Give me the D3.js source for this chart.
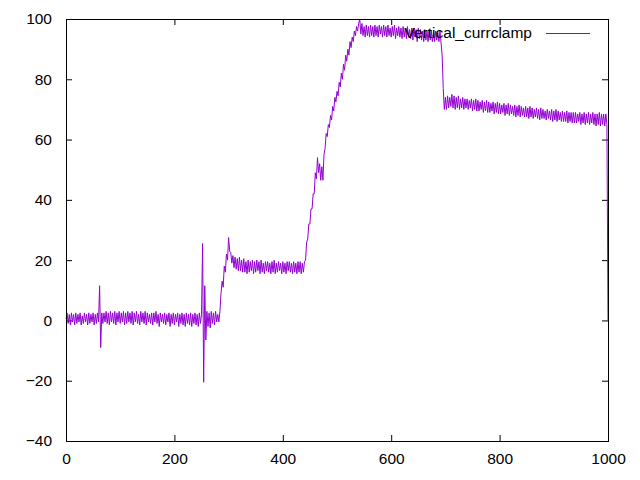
<!DOCTYPE html>
<html>
<head>
<meta charset="utf-8">
<script src="https://cdn.jsdelivr.net/npm/d3@7"></script>
<style>
  html, body { margin: 0; padding: 0; background: #fff; }
  svg { display: block; }
  text { font-family: "Liberation Sans", Arial, sans-serif; font-size: 15.5px; fill: #000; }
</style>
</head>
<body>
<svg id="chart" width="640" height="480"></svg>
<script>
// ---- data ----
const seriesName = "Vertical_currclamp";
const xStep = 2; // samples every 2 units, x = index * xStep
const values = [
  0.5, 2.5, -1, 2, -1.5, 2.5, -0.5, 2, -1.5, 2.5,
  -1, 2, -0.5, 2.5, -1.5, 1.5, -1, 2.5, -0.5, 2,
  -1.5, 2.5, -1, 2, -0.5, 2.5, -1.5, 2, -1, 2.5,
  -0.5, 11.5, -9, 2.5, -1, 2.5, -0.5, 3, -1, 2.5,
  -1.5, 3, -0.5, 2.5, -1, 3, -1.5, 2.5, -0.5, 3,
  -1, 2.5, -0.5, 3, -1.5, 2.5, -1, 3, -0.5, 2.5,
  -1, 3, -1.5, 2.5, -0.5, 3, -1, 2, -1.5, 3,
  -0.5, 2.5, -1, 3, -1.5, 2.5, -0.5, 2, -1, 2.5,
  -1.5, 2.5, -0.5, 3, -1, 2, -2, 2.5, -0.5, 2,
  -1, 2.5, -1.5, 2, -0.5, 2.5, -2, 2, -1, 2.5,
  -1.5, 2, -0.5, 2.5, -2, 2, -1, 2.5, -1.5, 2,
  -2, 2.5, -1, 2, -1.5, 2.5, -2, 2, -1, 2.5,
  -1.5, 2, -2, 2.5, -1, 2, 25.5, -20.5, 11.5, -6.5,
  3, -2, 2.5, -2.5, 3, -1, 2.5, -1.5, 3, -0.5,
  2, -0.5, 3, 9, 13, 11, 18, 16, 22, 20,
  27.5, 23, 22.5, 19, 21.5, 17.5, 21, 17, 20.5, 16.5,
  21, 16.5, 20, 16, 20.5, 16, 19.5, 15.5, 20, 16,
  19.5, 16.5, 20, 15.5, 19.5, 16, 20, 16.5, 19.5, 15.5,
  20, 16, 19, 15.5, 19.5, 16.5, 19.5, 16, 19, 15.5,
  19.5, 16, 20, 15.5, 19, 16, 19.5, 16.5, 19, 15.5,
  19.5, 16, 19, 15.5, 19.5, 16.5, 19.5, 16, 19, 15.5,
  19.5, 16, 19, 15.5, 19.5, 16, 19.5, 15.5, 19, 16,
  19.5, 20, 26, 27, 32, 32, 37, 37, 42, 42,
  49, 47, 54, 49, 52, 46.5, 51, 46.5, 55, 57,
  62, 61, 65, 64, 68, 66.5, 71, 69.5, 74, 72.5,
  76, 74.5, 79, 77.5, 82, 80, 85, 83, 88, 86,
  90, 88, 92.5, 90.5, 94, 92.5, 96, 94.5, 97.5, 96,
  98.5, 100, 95, 98.5, 94.5, 97.5, 94, 98, 94.5, 97.5,
  94, 98, 94.5, 97.5, 94, 98, 94.5, 97.5, 94, 98,
  95, 97.5, 94, 98, 94.5, 97.5, 94, 98, 94.5, 97,
  94, 97.5, 94.5, 98, 93.5, 97, 94.5, 97.5, 94, 97,
  93.5, 97.5, 94, 97, 93.5, 97.5, 94, 96.5, 93.5, 97,
  93, 97, 94, 96.5, 92.5, 97, 93.5, 96.5, 93, 96,
  92.5, 96.5, 93, 96, 92.5, 96.5, 93, 96, 92.5, 95.5,
  92.5, 96, 93, 95.5, 92.5, 96, 92, 88, 77, 70,
  74, 70, 74.5, 70.5, 74, 71, 75, 70.5, 74.5, 70,
  74, 70.5, 74.5, 70, 73.5, 70.5, 74, 70, 73.5, 70.5,
  73.5, 70, 73, 70.5, 73.5, 69.5, 73, 70, 73.5, 69.5,
  73, 69.5, 72.5, 70, 73, 69, 72.5, 69.5, 73, 69,
  72.5, 69, 72, 69.5, 72.5, 68.5, 72, 69, 72.5, 68.5,
  72, 68.5, 71.5, 69, 72, 68, 71.5, 68.5, 72, 68,
  71.5, 68.5, 71, 68, 71.5, 67.5, 71, 68, 71.5, 67.5,
  71, 68, 70.5, 67.5, 71, 67.5, 70.5, 67, 71, 67.5,
  70.5, 67, 70, 67.5, 70.5, 67, 70, 66.5, 70.5, 67,
  70, 67, 69.5, 66.5, 70, 67, 69.5, 66.5, 70, 66,
  69.5, 66.5, 70, 66, 69.5, 66.5, 69, 66, 69.5, 66,
  69, 66, 69.5, 65.5, 69, 66, 69, 65.5, 69, 65.5,
  69, 65.5, 68.5, 66, 69, 65, 68.5, 65.5, 69, 65,
  68.5, 65.5, 69, 65, 68.5, 65.5, 69, 65, 68.5, 64.5,
  68.5, 65, 69, 64.5, 68.5, 65, 68.5, 64.5, 68.5, 65,
  0
];
const xTicks = [0, 200, 400, 600, 800, 1000];
const yTicks = [-40, -20, 0, 20, 40, 60, 80, 100];
const xDomain = [0, 1000];
const yDomain = [-40, 100];

// ---- layout ----
const plotLeft = 66, plotRight = 608, plotTop = 19, plotBottom = 441;
const lineColor = "#9400d3";
const tickLen = 6;

const svg = d3.select("#chart");
const x = d3.scaleLinear().domain(xDomain).range([plotLeft, plotRight]);
const y = d3.scaleLinear().domain(yDomain).range([plotBottom, plotTop]);

const data = values.map((v, i) => ({ x: i * xStep, y: v }));

// axes (gnuplot style: inward ticks, mirrored)
const gB = svg.append("g").attr("transform", `translate(0,${plotBottom})`)
  .call(d3.axisBottom(x).tickValues(xTicks).tickSize(-tickLen).tickPadding(12).tickFormat(d3.format("d")));
const gT = svg.append("g").attr("transform", `translate(0,${plotTop})`)
  .call(d3.axisTop(x).tickValues(xTicks).tickSize(-tickLen).tickFormat(""));
const gL = svg.append("g").attr("transform", `translate(${plotLeft},0)`)
  .call(d3.axisLeft(y).tickValues(yTicks).tickSize(-tickLen).tickPadding(14).tickFormat(d3.format("d")));
const gR = svg.append("g").attr("transform", `translate(${plotRight},0)`)
  .call(d3.axisRight(y).tickValues(yTicks).tickSize(-tickLen).tickFormat(""));
[gB, gT, gL, gR].forEach(g => {
  g.select(".domain").remove();
  g.selectAll(".tick line").attr("stroke", "#000").attr("stroke-width", 1);
  g.selectAll("text").attr("font-family", null).attr("font-size", null);
});
gB.selectAll("text").attr("dy", "0.71em");

// line
const line = d3.line().x(d => x(d.x)).y(d => y(d.y));
svg.append("path").datum(data)
  .attr("fill", "none").attr("stroke", lineColor).attr("stroke-width", 1)
  .attr("d", line);

// border
svg.append("rect")
  .attr("x", plotLeft + 0.5).attr("y", plotTop + 0.5)
  .attr("width", plotRight - plotLeft).attr("height", plotBottom - plotTop)
  .attr("fill", "none").attr("stroke", "#000").attr("stroke-width", 1);

// legend
const legY = 33;
svg.append("text").attr("x", 532).attr("y", legY).attr("dy", "0.35em")
  .attr("text-anchor", "end").text(seriesName);
svg.append("line").attr("x1", 546).attr("x2", 590).attr("y1", legY + 0.5).attr("y2", legY + 0.5)
  .attr("stroke", lineColor).attr("stroke-width", 1);
</script>
</body>
</html>
